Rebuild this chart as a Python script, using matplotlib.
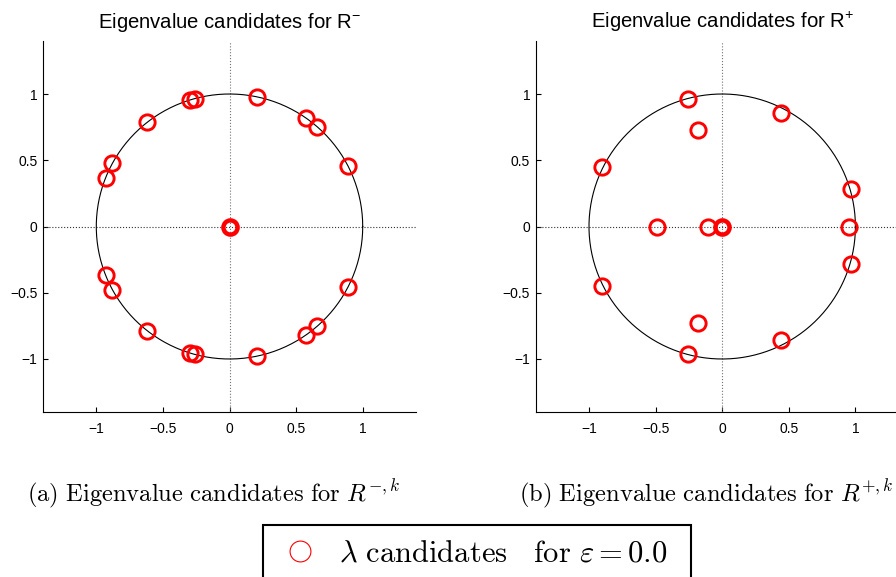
import numpy as np
import matplotlib.pyplot as plt
from matplotlib.lines import Line2D

plt.rcParams['font.family'] = ['Liberation Sans', 'DejaVu Sans']
plt.rcParams['mathtext.fontset'] = 'custom'
plt.rcParams['mathtext.rm'] = 'Liberation Sans'
plt.rcParams['mathtext.it'] = 'Liberation Sans:italic'

# eigenvalue candidates for R^- (upper half, mirrored below by conjugation)
re_minus = [0.21, -0.30, -0.26, -0.62, -0.88, -0.93, 0.575, 0.66, 0.89]
im_minus = [0.975, 0.957, 0.962, 0.785, 0.476, 0.365, 0.818, 0.753, 0.46]
zero_minus = [0.0]

# eigenvalue candidates for R^+
re_plus = [-0.26, -0.18, 0.445, -0.90, 0.965]
im_plus = [0.966, 0.727, 0.857, 0.452, 0.285]
real_plus = [0.952, -0.488, -0.108]
zero_plus = [0.0]

ticks = [-1, -0.5, 0, 0.5, 1]
tick_labels = ['\u22121', '\u22120.5', '0', '0.5', '1']

titles = ['Eigenvalue candidates for R$^{-}$', 'Eigenvalue candidates for R$^{+}$']
captions = [r'$\mathrm{(a)\ Eigenvalue\ candidates\ for\ }R^{-,k}$',
            r'$\mathrm{(b)\ Eigenvalue\ candidates\ for\ }R^{+,k}$']


def points(re, im, real):
    x = np.concatenate([re, re, real])
    y = np.concatenate([im, -np.array(im), np.zeros(len(real))])
    return x, y


def draw(ax, x, y, z, title):
    t = np.linspace(0, 2 * np.pi, 400)
    ax.axhline(0, ls=':', color='0.2', lw=0.8)
    ax.axvline(0, ls=':', color='0.45', lw=0.8)
    ax.plot(np.cos(t), np.sin(t), color='k', lw=0.8)
    ax.plot(x, y, 'o', mfc='none', mec='red', ms=11, mew=2.1, zorder=3)
    # several candidates sit at the origin -> heavier ring
    ax.plot(z, np.zeros(len(z)), 'o', mfc='none', mec='red', ms=10.2, mew=3.2, zorder=3)
    ax.set_xlim(-1.4, 1.4)
    ax.set_ylim(-1.4, 1.4)
    ax.set_xticks(ticks)
    ax.set_xticklabels(tick_labels)
    ax.set_yticks(ticks)
    ax.set_yticklabels(tick_labels)
    ax.tick_params(direction='in', length=3.6, labelsize=10)
    ax.tick_params(axis='x', pad=7.2)
    ax.tick_params(axis='y', pad=4)
    for s in ['top', 'right']:
        ax.spines[s].set_visible(False)
    for s in ['left', 'bottom']:
        ax.spines[s].set_linewidth(0.8)
    ax.set_title(title, fontsize=14.6, pad=9.4)


fig = plt.figure(figsize=(8.96, 5.77), dpi=100)
W, H = 896, 577
ax1 = fig.add_axes([43 / W, 1 - 412 / H, 373 / W, 371 / H])
ax2 = fig.add_axes([535.7 / W, 1 - 412 / H, 373 / W, 371 / H])

x, y = points(re_minus, im_minus, [])
draw(ax1, x, y, zero_minus, titles[0])

x, y = points(re_plus, im_plus, real_plus)
draw(ax2, x, y, zero_plus, titles[1])

t1 = fig.text(213.5 / W, 1 - 501 / H, captions[0], ha='center', va='baseline', fontsize=17.7)
t2 = fig.text(706 / W, 1 - 501 / H, captions[1], ha='center', va='baseline', fontsize=17.7)
for t in (t1, t2):
    t.set_math_fontfamily('cm')

handle = Line2D([], [], ls='none', marker='o', mfc='none', mec='red', ms=15, mew=0.8)
leg = fig.legend([handle], [r'$\lambda\ \mathrm{candidates}\quad\mathrm{for}\ \varepsilon = 0.0$' + '  '],
                 loc='upper left', bbox_to_anchor=(263 / W, 1 - 525 / H),
                 fontsize=22, fancybox=False, edgecolor='k', framealpha=1,
                 borderpad=0.45, handlelength=1.5, handletextpad=0.55, borderaxespad=0)
leg.get_frame().set_linewidth(1.5)
for t in leg.get_texts():
    t.set_math_fontfamily('cm')

fig.savefig('out.png', dpi=100)
